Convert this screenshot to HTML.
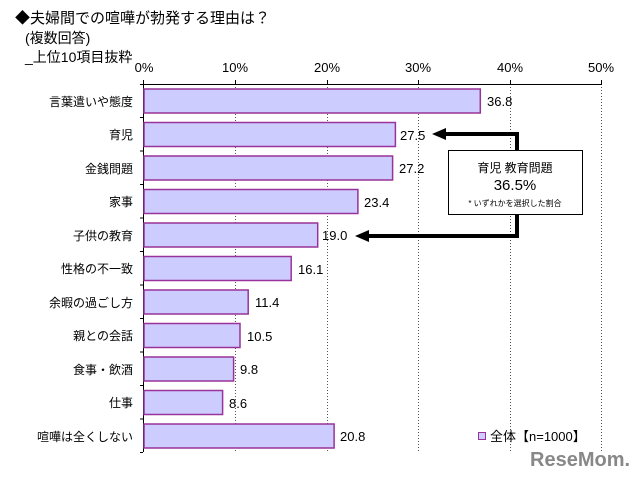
<!DOCTYPE html>
<html><head><meta charset="utf-8"><style>
html,body{margin:0;padding:0;background:#fff;}
svg{display:block;}
text{font-family:"Liberation Sans","Noto Sans CJK JP",sans-serif;}
</style></head><body>
<svg width="640" height="477" viewBox="0 0 640 477" xmlns="http://www.w3.org/2000/svg">
<g font-size="15" fill="#000">
<text x="15" y="23">◆夫婦間での喧嘩が勃発する理由は？</text>
<text x="25" y="43" font-size="14">(複数回答)</text>
<text x="25" y="62" font-size="14">_上位10項目抜粋</text>
</g>
<g font-size="13" text-anchor="middle">
<text x="144" y="72">0%</text><text x="235" y="72">10%</text><text x="327" y="72">20%</text>
<text x="418" y="72">30%</text><text x="510" y="72">40%</text><text x="601" y="72">50%</text>
</g>
<g stroke="#555" stroke-dasharray="1,2" stroke-width="1">
<line x1="235.5" y1="84" x2="235.5" y2="452"/><line x1="327.5" y1="84" x2="327.5" y2="452"/>
<line x1="418.5" y1="84" x2="418.5" y2="452"/><line x1="510.5" y1="84" x2="510.5" y2="452"/>
<line x1="601.5" y1="84" x2="601.5" y2="452"/>
</g>
<line x1="140" y1="84.5" x2="602" y2="84.5" stroke="#000"/>
<line x1="143.5" y1="80" x2="143.5" y2="452" stroke="#000"/>
<g stroke="#000">
<line x1="235.5" y1="80" x2="235.5" y2="84"/><line x1="327.5" y1="80" x2="327.5" y2="84"/>
<line x1="418.5" y1="80" x2="418.5" y2="84"/><line x1="510.5" y1="80" x2="510.5" y2="84"/><line x1="601.5" y1="80" x2="601.5" y2="84"/>
<line x1="140" y1="117.5" x2="143" y2="117.5"/><line x1="140" y1="151" x2="143" y2="151"/>
<line x1="140" y1="184.5" x2="143" y2="184.5"/><line x1="140" y1="218" x2="143" y2="218"/>
<line x1="140" y1="251.5" x2="143" y2="251.5"/><line x1="140" y1="285" x2="143" y2="285"/>
<line x1="140" y1="318.5" x2="143" y2="318.5"/><line x1="140" y1="352" x2="143" y2="352"/>
<line x1="140" y1="385.5" x2="143" y2="385.5"/><line x1="140" y1="419" x2="143" y2="419"/>
<line x1="140" y1="452.5" x2="143" y2="452.5"/>
</g>
<g fill="#ccccff" stroke="#993399" stroke-width="1.5">
<rect x="144" y="89" width="336.3" height="24"/>
<rect x="144" y="122.5" width="251.4" height="24"/>
<rect x="144" y="156" width="248.6" height="24"/>
<rect x="144" y="189.5" width="213.9" height="24"/>
<rect x="144" y="223" width="173.7" height="24"/>
<rect x="144" y="256.5" width="147.2" height="24"/>
<rect x="144" y="290" width="104.2" height="24"/>
<rect x="144" y="323.5" width="96" height="24"/>
<rect x="144" y="357" width="89.6" height="24"/>
<rect x="144" y="390.5" width="78.6" height="24"/>
<rect x="144" y="424" width="190.1" height="24"/>
</g>
<g font-size="12" text-anchor="end">
<text x="133" y="106">言葉遣いや態度</text><text x="133" y="139">育児</text>
<text x="133" y="173">金銭問題</text><text x="133" y="206">家事</text>
<text x="133" y="240">子供の教育</text><text x="133" y="273">性格の不一致</text>
<text x="133" y="307">余暇の過ごし方</text><text x="133" y="340">親との会話</text>
<text x="133" y="374">食事・飲酒</text><text x="133" y="407">仕事</text>
<text x="133" y="441">喧嘩は全くしない</text>
</g>
<g font-size="13">
<text x="487" y="106">36.8</text><text x="400" y="140">27.5</text>
<text x="399" y="173">27.2</text><text x="364" y="207">23.4</text>
<text x="322" y="240">19.0</text><text x="298" y="274">16.1</text>
<text x="255" y="307">11.4</text><text x="247" y="341">10.5</text>
<text x="240" y="374">9.8</text><text x="229" y="408">8.6</text>
<text x="340" y="441">20.8</text>
</g>
<g stroke="#000" stroke-width="4" fill="none">
<polyline points="444,134 517,134 517,236 368,236"/>
</g>
<polygon points="432,134 446,128 446,140" fill="#000"/>
<polygon points="355,236 369,230 369,242" fill="#000"/>
<rect x="448.5" y="150.5" width="134" height="64" fill="#fff" stroke="#000"/>
<text x="515" y="172" font-size="12" text-anchor="middle">育児  教育問題</text>
<text x="515" y="190" font-size="15" text-anchor="middle">36.5%</text>
<text x="515" y="206" font-size="8" text-anchor="middle">* いずれかを選択した割合</text>
<rect x="478.5" y="432.5" width="7" height="7" fill="#ccccff" stroke="#993399"/>
<text x="490" y="441" font-size="13">全体【n=1000】</text>
<text x="530" y="466" font-size="20" font-weight="bold" fill="#888">ReseMom.</text>
</svg>
</body></html>
